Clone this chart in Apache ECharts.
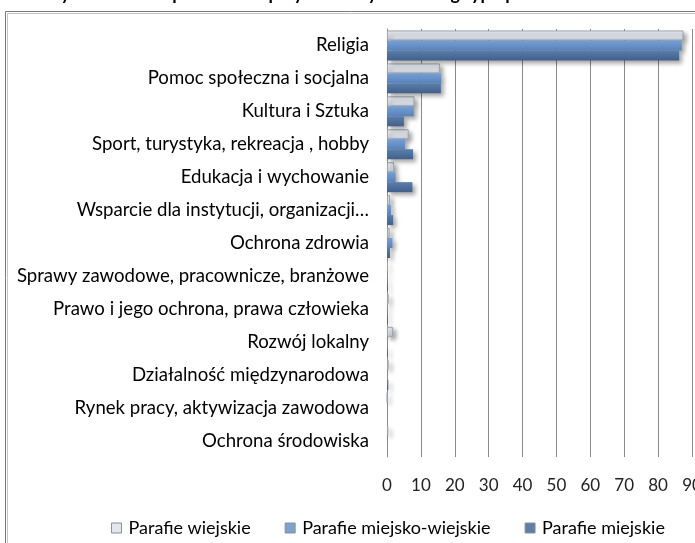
<!DOCTYPE html>
<html>
<head>
<meta charset="utf-8">
<script src="https://cdn.jsdelivr.net/npm/echarts@6/dist/echarts.min.js"></script>
<style>
  html, body { margin: 0; padding: 0; background: #fff; }
  #chart { width: 695px; height: 543px; }
</style>
</head>
<body>
<div id="chart"></div>
<script>
// Obszary działalności według typu parafii (% parafii)
const categories = [
  'Religia',
  'Pomoc społeczna i socjalna',
  'Kultura i Sztuka',
  'Sport, turystyka, rekreacja , hobby',
  'Edukacja i wychowanie',
  'Wsparcie dla instytucji, organizacji…',
  'Ochrona zdrowia',
  'Sprawy zawodowe, pracownicze, branżowe',
  'Prawo i jego ochrona, prawa człowieka',
  'Rozwój lokalny',
  'Działalność międzynarodowa',
  'Rynek pracy, aktywizacja zawodowa',
  'Ochrona środowiska'
];
const seriesNames = ['Parafie wiejskie', 'Parafie miejsko-wiejskie', 'Parafie miejskie'];
const wiejskie        = [87.5, 15.6, 8.1, 6.4, 2.1, 0.9, 0.8, 0.3, 0.5, 1.8, 0.5, 0.1, 0.4];
const miejskoWiejskie = [87.0, 16.0, 7.9, 5.3, 2.5, 1.2, 1.6, 0.2, 0.3, 0.0, 0.0, 0.0, 0.0];
const miejskie        = [86.2, 15.9, 5.0, 7.7, 7.5, 1.8, 0.9, 0.3, 0.3, 0.3, 0.4, 0.0, 0.0];
const xTicks = [0, 10, 20, 30, 40, 50, 60, 70, 80, 90];

const FONT = 'Lato, "Open Sans", sans-serif';

function grad(top, bottom) {
  return new echarts.graphic.LinearGradient(0, 0, 0, 1, [
    { offset: 0, color: top },
    { offset: 1, color: bottom }
  ]);
}

const styles = [
  { fill: grad('#eceef3', '#cdd3de'), border: '#9ea4ad', legend: '#e3e6ec' },
  { fill: grad('#769fd3', '#5882bb'), border: '#5882bb', legend: '#7ea2cf' },
  { fill: grad('#5a7eaa', '#41608b'), border: '#41608b', legend: '#5f7ea5' }
];
const values = [wiejskie, miejskoWiejskie, miejskie];

const chart = echarts.init(document.getElementById('chart'), null, { renderer: 'canvas' });

chart.setOption({
  animation: false,
  backgroundColor: '#ffffff',
  title: {
    text: 'Obszary działalności podmiotów przykościelnych według typu parafii',
    left: 4,
    top: -15,
    padding: 0,
    textStyle: { fontFamily: FONT, fontSize: 18, fontWeight: 'bold', color: '#000', lineHeight: 18 }
  },
  graphic: [
    { type: 'rect', shape: { x: 5.5, y: 11.5, width: 720, height: 560 },
      style: { fill: 'none', stroke: '#7a7a7a', lineWidth: 1 }, silent: true, z: 100 },
    { type: 'rect', shape: { x: 7.5, y: 13.5, width: 720, height: 560 },
      style: { fill: 'none', stroke: '#c4c4c4', lineWidth: 1 }, silent: true, z: 100 }
  ],
  legend: {
    bottom: 6,
    left: 111,
    padding: 0,
    itemWidth: 10,
    itemHeight: 10,
    itemGap: 34,
    icon: 'rect',
    textStyle: { fontFamily: FONT, fontSize: 18, color: '#000', padding: [0, 0, 0, 2] },
    data: seriesNames.map((n, i) => ({
      name: n,
      itemStyle: { color: styles[i].legend, borderColor: '#8a8f98', borderWidth: 1 }
    }))
  },
  grid: { left: 387, right: 3, top: 29, bottom: 86, outerBoundsMode: 'none', containLabel: false },
  xAxis: {
    type: 'value',
    min: xTicks[0],
    max: xTicks[xTicks.length - 1],
    interval: 10,
    axisLine: { show: false },
    axisTick: { show: false },
    axisLabel: { fontFamily: FONT, fontSize: 17, color: '#222', margin: 20 },
    splitLine: { show: true, lineStyle: { color: '#8a8a8a', width: 1 } }
  },
  yAxis: {
    type: 'category',
    inverse: true,
    data: categories,
    axisLine: { show: true, lineStyle: { color: '#8a8a8a', width: 1 } },
    axisTick: { show: false },
    axisLabel: { fontFamily: FONT, fontSize: 18.6, color: '#000', margin: 18 }
  },
  series: seriesNames.map((n, i) => ({
    name: n,
    type: 'bar',
    data: values[i],
    barGap: '0%',
    barCategoryGap: '9%',
    itemStyle: {
      color: styles[i].fill,
      borderColor: styles[i].border,
      borderWidth: i === 0 ? 1 : 0,
      shadowColor: 'rgba(0,0,0,0.35)',
      shadowBlur: 4,
      shadowOffsetX: 3,
      shadowOffsetY: 3
    }
  }))
});
</script>
</body>
</html>
